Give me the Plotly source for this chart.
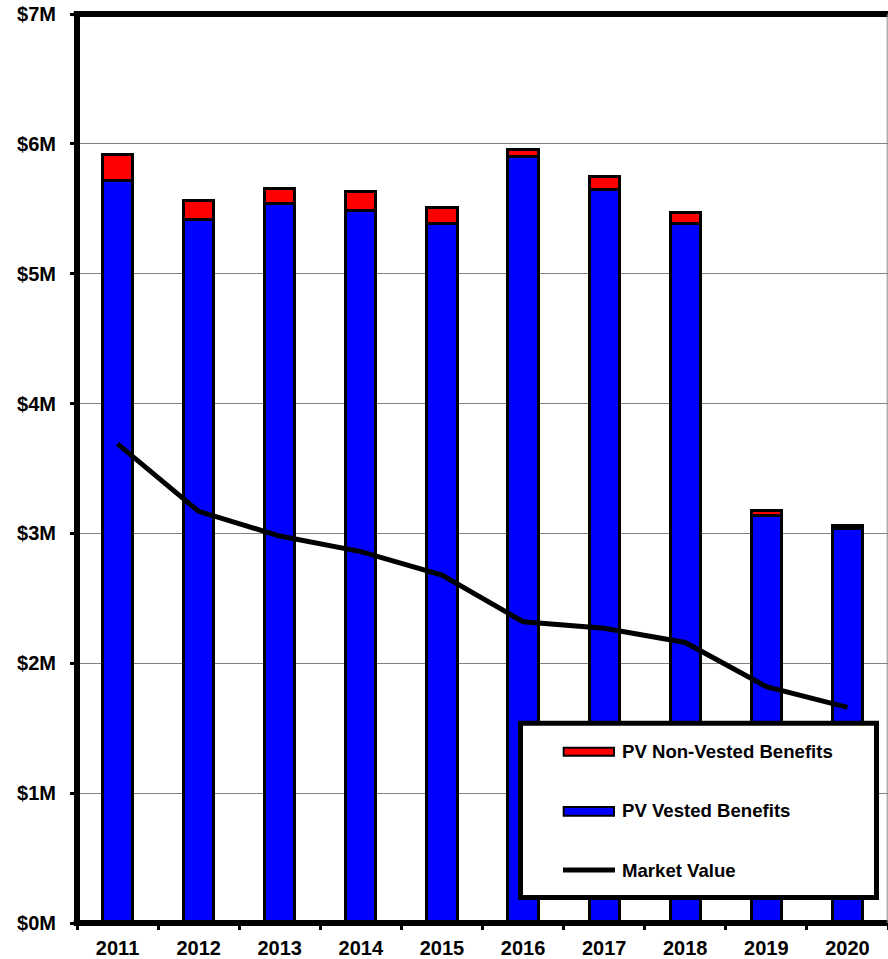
import plotly.graph_objects as go

# Plan years and values in $ millions
years = ["2011", "2012", "2013", "2014", "2015", "2016", "2017", "2018", "2019", "2020"]
pv_vested = [5.72, 5.42, 5.54, 5.49, 5.39, 5.90, 5.65, 5.39, 3.14, 3.04]
pv_non_vested = [0.20, 0.14, 0.12, 0.14, 0.12, 0.06, 0.10, 0.08, 0.04, 0.02]
market_value = [3.69, 3.17, 2.98, 2.86, 2.68, 2.32, 2.27, 2.16, 1.82, 1.66]

y_ticks = [0, 1, 2, 3, 4, 5, 6, 7]
y_tick_text = ["$0M", "$1M", "$2M", "$3M", "$4M", "$5M", "$6M", "$7M"]

legend_labels = ["PV Non-Vested Benefits", "PV Vested Benefits", "Market Value"]

FONT = "Liberation Sans, Arial, sans-serif"
W, H = 888, 959
L, R, T, B = 77, 0, 14, 36
PW, PH = W - L - R, H - T - B


def px_x(px):
    return (px - L) / PW


def px_y(py):
    return (H - B - py) / PH


fig = go.Figure()

fig.add_trace(go.Bar(
    x=years, y=pv_vested, name=legend_labels[1],
    marker=dict(color="#0000FF", line=dict(color="black", width=3)),
    showlegend=False,
))
fig.add_trace(go.Bar(
    x=years, y=pv_non_vested, name=legend_labels[0],
    marker=dict(color="#FF0000", line=dict(color="black", width=3)),
    showlegend=False,
))
fig.add_trace(go.Scatter(
    x=years, y=market_value, name=legend_labels[2], mode="lines",
    line=dict(color="black", width=5),
    showlegend=False,
))

shapes = []
# frame: thick left, bottom and top lines, thin right edge
shapes.append(dict(type="line", xref="paper", yref="paper", x0=0, x1=0, y0=0, y1=1,
                   line=dict(color="black", width=6)))
shapes.append(dict(type="line", xref="paper", yref="paper", x0=-0.004, x1=1, y0=0, y1=0,
                   line=dict(color="black", width=6)))
shapes.append(dict(type="line", xref="paper", yref="paper", x0=-0.004, x1=1, y0=1, y1=1,
                   line=dict(color="black", width=6)))
shapes.append(dict(type="line", xref="paper", yref="paper", x0=0.999, x1=0.999, y0=0, y1=1,
                   line=dict(color="#888888", width=1)))

# legend box
shapes.append(dict(type="rect", xref="paper", yref="paper", layer="above",
                   x0=px_x(520.5), x1=px_x(876.5), y0=px_y(897.5), y1=px_y(723.2),
                   fillcolor="white", line=dict(color="black", width=5)))
# legend swatches
shapes.append(dict(type="rect", xref="paper", yref="paper", layer="above",
                   x0=px_x(563.7), x1=px_x(614), y0=px_y(755.7), y1=px_y(747.7),
                   fillcolor="#FF0000", line=dict(color="black", width=2)))
shapes.append(dict(type="rect", xref="paper", yref="paper", layer="above",
                   x0=px_x(563.7), x1=px_x(614), y0=px_y(815.7), y1=px_y(807),
                   fillcolor="#0000FF", line=dict(color="black", width=2)))
shapes.append(dict(type="line", xref="paper", yref="paper", layer="above",
                   x0=px_x(563), x1=px_x(615), y0=px_y(870), y1=px_y(870),
                   line=dict(color="black", width=5)))

annotations = []
for label, cy in zip(legend_labels, [751, 810.5, 870]):
    annotations.append(dict(
        text=label, xref="paper", yref="paper", x=px_x(619.5), y=px_y(cy),
        xanchor="left", yanchor="middle", showarrow=False,
        font=dict(family=FONT, size=18.6, color="black", weight="bold"),
    ))

fig.update_layout(
    width=W, height=H,
    margin=dict(l=L, r=R, t=T, b=B, pad=0),
    barmode="stack", bargap=0.627,
    paper_bgcolor="white", plot_bgcolor="white",
    shapes=shapes, annotations=annotations,
    showlegend=False,
    font=dict(family=FONT, color="black"),
)

fig.update_xaxes(
    showgrid=False, showline=False, zeroline=False,
    ticks="outside", tickson="boundaries", ticklen=6, tickwidth=3, tickcolor="black",
    tickfont=dict(family=FONT, size=20, color="black", weight="bold"),
    ticklabelstandoff=11,
)
fig.update_yaxes(
    range=[0, 7], tickvals=y_ticks, ticktext=y_tick_text,
    showgrid=True, gridcolor="#808080", gridwidth=1,
    showline=False, zeroline=False,
    ticks="outside", ticklen=6, tickwidth=3, tickcolor="black",
    tickfont=dict(family=FONT, size=20, color="black", weight="bold"),
    ticklabelstandoff=10,
)

fig.write_html("out.html")
